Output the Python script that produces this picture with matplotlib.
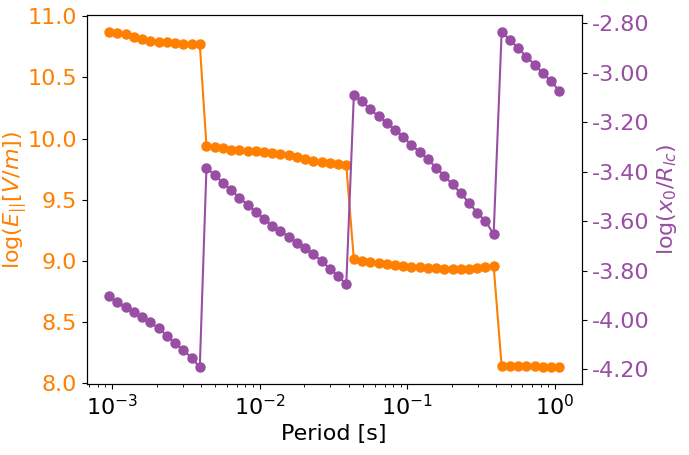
import matplotlib
matplotlib.use("Agg")
import matplotlib.pyplot as plt
from matplotlib.ticker import FormatStrFormatter

period = [
    0.000954, 0.001085, 0.001234, 0.001403, 0.001595, 0.001814, 0.002063, 0.002346,
    0.002667, 0.003033, 0.003449, 0.003922,
    0.004352, 0.004949, 0.005624, 0.006393, 0.007271, 0.008268, 0.009397, 0.01068,
    0.01215, 0.01381, 0.01570, 0.01785, 0.02030, 0.02307, 0.02623, 0.02982, 0.03391, 0.03855,
    0.04338, 0.04932, 0.05607, 0.06376, 0.07248, 0.08240, 0.09367, 0.1065,
    0.1211, 0.1377, 0.1565, 0.1780, 0.2023, 0.2300, 0.2615, 0.2973, 0.3380, 0.3843,
    0.4352, 0.4949, 0.5626, 0.6396, 0.7273, 0.8270, 0.9401, 1.0688,
]

log_E = [
    10.87, 10.86, 10.85, 10.83, 10.81, 10.80, 10.79, 10.79, 10.78, 10.77, 10.77, 10.77,
    9.94, 9.93, 9.92, 9.91, 9.91, 9.90, 9.90, 9.89, 9.885, 9.877, 9.863, 9.849,
    9.83, 9.815, 9.809, 9.80, 9.79, 9.78,
    9.015, 9.001, 8.990, 8.982, 8.974, 8.967, 8.962, 8.955, 8.950, 8.945, 8.941, 8.938,
    8.937, 8.937, 8.938, 8.944, 8.952, 8.960,
    8.141, 8.145, 8.141, 8.140, 8.140, 8.133, 8.132, 8.136,
]

log_x0 = [
    -3.902, -3.929, -3.949, -3.969, -3.989, -4.009, -4.033, -4.063, -4.093, -4.121, -4.153, -4.191,
    -3.384, -3.414, -3.445, -3.475, -3.505, -3.534, -3.562, -3.590, -3.620, -3.640,
    -3.664, -3.687, -3.707, -3.734, -3.761, -3.792, -3.821, -3.856,
    -3.092, -3.116, -3.149, -3.176, -3.203, -3.230, -3.259, -3.293, -3.320, -3.351,
    -3.384, -3.418, -3.452, -3.488, -3.526, -3.566, -3.600, -3.653,
    -2.836, -2.867, -2.901, -2.935, -2.968, -3.002, -3.035, -3.073,
]

orange = '#ff7f00'
purple = '#984ea3'

plt.rcParams['font.size'] = 16
fig = plt.figure(figsize=(6.89, 4.55), dpi=100)
ax = fig.add_axes([0.1258, 0.156, 0.7185, 0.8104])
ax.plot(period, log_E, '-o', color=orange, markersize=6.5, linewidth=1.5)
ax.set_xscale('log')
ax.set_xlabel('Period [s]')
ax.set_ylabel(r'log($E_{||}[V/m]$)', color=orange)
ax.yaxis.set_label_coords(-0.116, 0.5)
ax.tick_params(axis='y', labelcolor=orange)
ax.yaxis.set_major_formatter(FormatStrFormatter('%.1f'))

ax2 = ax.twinx()
ax2.plot(period, log_x0, '-o', color=purple, markersize=6.5, linewidth=1.5)
ax2.set_ylabel(r'log($x_0/R_{lc}$)', color=purple)
ax2.tick_params(axis='y', labelcolor=purple)
ax2.yaxis.set_major_formatter(FormatStrFormatter('%.2f'))

fig.savefig('out.png', dpi=100)
